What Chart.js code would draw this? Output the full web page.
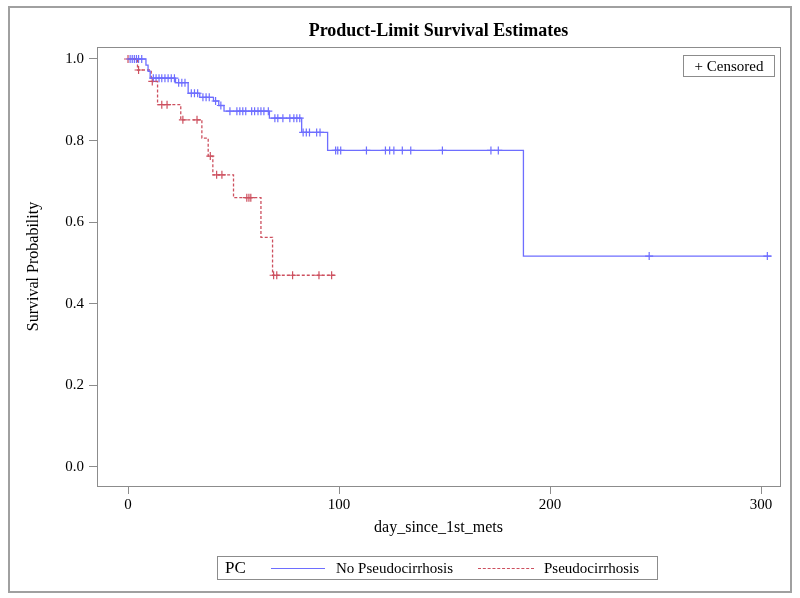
<!DOCTYPE html>
<html lang="en">

<head>
    <meta charset="UTF-8">
    <title>Product-Limit Survival Estimates</title>
    <style>
        body {
            margin: 0;
            background: #ffffff;
            font-family: "Liberation Serif", "Times New Roman", serif;
        }

        .wrap {
            position: relative;
            width: 800px;
            height: 598px;
        }

        .title {
            position: absolute;
            left: 97px;
            width: 683px;
            top: 20px;
            text-align: center;
            font-weight: bold;
            font-size: 18px;
        }

        .censor-box {
            position: absolute;
            left: 683px;
            top: 55px;
            width: 90px;
            height: 20px;
            border: 1px solid #8c8c8c;
            font-size: 15px;
            line-height: 20px;
            text-align: center;
        }

        .legend {
            position: absolute;
            left: 217px;
            top: 556px;
            width: 439px;
            height: 22px;
            border: 1px solid #8c8c8c;
            font-size: 15px;
            line-height: 22px;
        }

        .legend span {
            position: absolute;
            top: 0;
        }

        .legend .sample {
            top: 11px;
            height: 0;
        }
    </style>
</head>

<body>
    <div class="wrap">
        <canvas id="kmChart" width="800" height="598"></canvas>
        <div class="title">Product-Limit Survival Estimates</div>
        <div class="censor-box">+ Censored</div>
        <div class="legend">
            <span style="left: 7px; font-size: 17px;">PC</span>
            <span class="sample" style="left: 53px; width: 54px; border-top: 1px solid rgb(110,110,255);"></span>
            <span style="left: 118px;">No Pseudocirrhosis</span>
            <span class="sample" style="left: 260px; width: 56px; border-top: 1px dashed rgb(205,80,95);"></span>
            <span style="left: 326px;">Pseudocirrhosis</span>
        </div>
    </div>

    <script src="https://cdn.jsdelivr.net/npm/chart.js"></script>
    <script>
// No Pseudocirrhosis: step times (days) and survival after each step
const blueTimes = [0, 8.5, 9.5, 10.5, 22.5, 28.5, 34, 40.5, 43, 45.5, 67, 82.3, 94.6, 187.4, 305];
const blueSurv  = [1.0, 0.985, 0.970, 0.953, 0.942, 0.916, 0.906, 0.897, 0.886, 0.872, 0.855, 0.820, 0.776, 0.517, 0.517];
const blueCensored = [1, 2, 3, 4, 5, 6.5, 12, 13.3, 14.7, 16, 17.5, 19, 20.5, 22, 24, 25.5, 27,
    30, 31.5, 33, 35.5, 37, 38.5, 41.5, 44, 48.3, 51.6, 53, 54.4, 55.8, 58.6, 60, 61.6, 63, 64.4, 66.5,
    69.6, 71, 73.4, 76.7, 78.6, 80, 81.4, 83, 84.5, 86, 89.4, 91, 98.4, 99.4, 100.8, 113, 122, 124,
    126, 130, 134, 149, 172, 175.5, 247, 303];

// Pseudocirrhosis
const redTimes = [0, 4.5, 11, 14, 25, 35, 38, 40.2, 50, 63, 68.5, 98];
const redSurv  = [1.0, 0.973, 0.945, 0.888, 0.851, 0.806, 0.762, 0.716, 0.660, 0.563, 0.470, 0.470];
const redCensored = [0, 5, 11.5, 16, 18.5, 26, 32.7, 39, 42, 44.5, 56.3, 57.3, 58.2, 69, 70.5, 78, 90.5, 96.5];

const xTicks = [0, 100, 200, 300];
const yTicks = [0, 0.2, 0.4, 0.6, 0.8, 1.0];

const blueColor = 'rgb(110, 110, 255)';
const redColor = 'rgb(205, 80, 95)';
const axisColor = '#8c8c8c';

// survival level at time t (last step at or before t)
function levelAt(times, surv, t) {
    let s = surv[0];
    for (let i = 0; i < times.length; i++) {
        if (times[i] <= t) s = surv[i];
    }
    return s;
}

function stepPoints(times, surv) {
    return times.map((t, i) => ({ x: t, y: surv[i] }));
}

function censorPoints(cens, times, surv) {
    return cens.map(t => ({ x: t, y: levelAt(times, surv, t) }));
}

// plot box + outer frame
const framePlugin = {
    id: 'frame',
    afterDraw(chart) {
        const { ctx, chartArea } = chart;
        ctx.save();
        ctx.strokeStyle = axisColor;
        ctx.lineWidth = 1;
        ctx.strokeRect(chartArea.left + 0.5, chartArea.top + 0.5,
            chartArea.right - chartArea.left, chartArea.bottom - chartArea.top);
        ctx.lineWidth = 2;
        ctx.strokeStyle = '#a0a0a0';
        ctx.strokeRect(9, 7, 782, 585);
        ctx.restore();
    }
};

const font = { family: '"Liberation Serif", "Times New Roman", serif', size: 15 };

new Chart(document.getElementById('kmChart'), {
    type: 'line',
    data: {
        datasets: [
            {
                label: 'No Pseudocirrhosis',
                data: stepPoints(blueTimes, blueSurv),
                stepped: 'before',   // horizontal first, then drop at the event time
                borderColor: blueColor,
                borderWidth: 1.3,
                pointRadius: 0,
                fill: false
            },
            {
                label: 'Pseudocirrhosis',
                data: stepPoints(redTimes, redSurv),
                stepped: 'before',
                borderColor: redColor,
                borderWidth: 1.3,
                borderDash: [3, 2],
                pointRadius: 0,
                fill: false
            },
            {
                type: 'scatter',
                label: 'Censored (No PC)',
                data: censorPoints(blueCensored, blueTimes, blueSurv),
                pointStyle: 'cross',
                pointRadius: 4,
                borderColor: blueColor,
                borderWidth: 1.2,
                showLine: false
            },
            {
                type: 'scatter',
                label: 'Censored (PC)',
                data: censorPoints(redCensored, redTimes, redSurv),
                pointStyle: 'cross',
                pointRadius: 4,
                borderColor: redColor,
                borderWidth: 1.2,
                showLine: false
            }
        ]
    },
    options: {
        responsive: false,
        animation: false,
        layout: {
            padding: { left: 20, top: 47, right: 20, bottom: 61 }
        },
        plugins: {
            legend: { display: false },
            tooltip: { enabled: false }
        },
        scales: {
            x: {
                type: 'linear',
                min: -14.7,
                max: 309,
                afterBuildTicks(scale) {
                    scale.ticks = xTicks.map(v => ({ value: v }));
                },
                afterFit(scale) { scale.height = 51; },
                grid: { drawOnChartArea: false, drawTicks: true, tickLength: 8, color: axisColor },
                border: { display: true, color: axisColor },
                ticks: { color: '#000', font: font, padding: 2, maxRotation: 0 },
                title: { display: true, text: 'day_since_1st_mets', color: '#000', font: { family: font.family, size: 16 }, padding: 0 }
            },
            y: {
                type: 'linear',
                min: -0.0466,
                max: 1.0294,
                afterBuildTicks(scale) {
                    scale.ticks = yTicks.map(v => ({ value: v }));
                },
                afterFit(scale) { scale.width = 77; },
                grid: { drawOnChartArea: false, drawTicks: true, tickLength: 8, color: axisColor },
                border: { display: true, color: axisColor },
                ticks: { color: '#000', font: font, padding: 5, callback: v => v.toFixed(1) },
                title: { display: true, text: 'Survival Probability', color: '#000', font: { family: font.family, size: 16 }, padding: { top: 4 } }
            }
        }
    },
    plugins: [framePlugin]
});
    </script>
</body>

</html>
